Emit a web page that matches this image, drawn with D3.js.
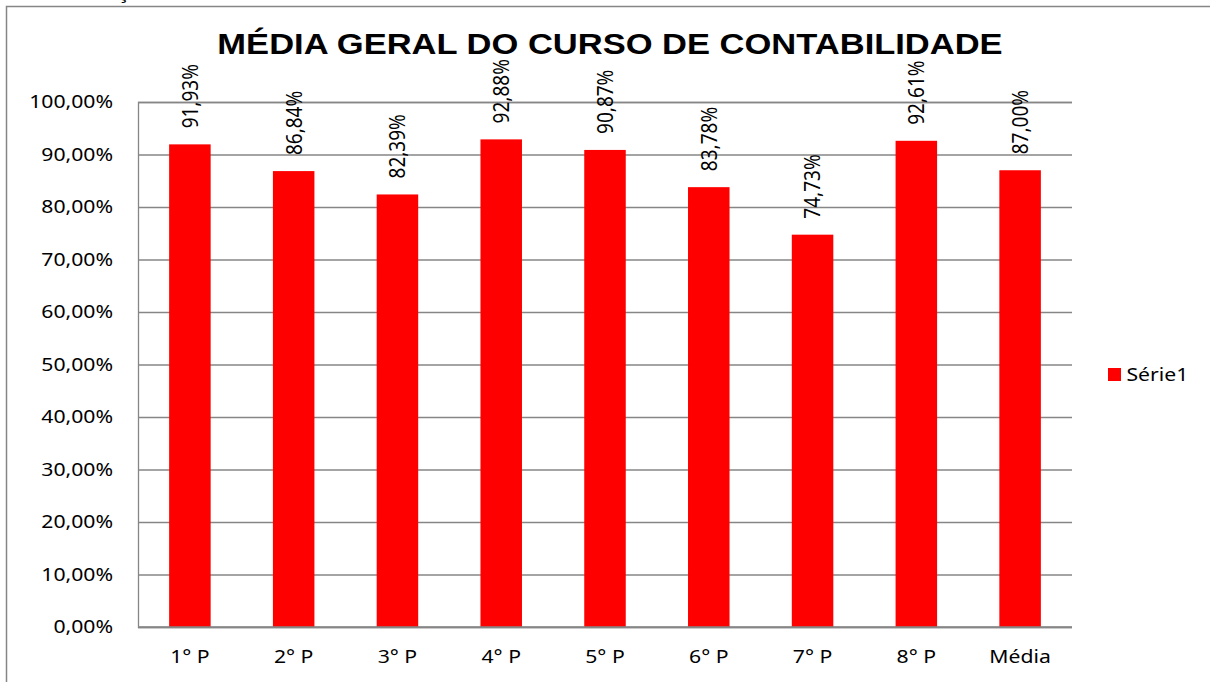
<!DOCTYPE html>
<html>
<head>
<meta charset="utf-8">
<script src="https://cdn.jsdelivr.net/npm/d3@7"></script>
<style>
  body { margin: 0; background: #fff; }
</style>
</head>
<body>
<div id="chart"></div>
<script>
// dados do grafico
var categorias = ["1° P", "2° P", "3° P", "4° P", "5° P", "6° P", "7° P", "8° P", "Média"];
var medias = [0.9193, 0.8684, 0.8239, 0.9288, 0.9087, 0.8378, 0.7473, 0.9261, 0.8700];
var ticksY = [0, 0.1, 0.2, 0.3, 0.4, 0.5, 0.6, 0.7, 0.8, 0.9, 1.0];
var serieNome = "Série1";
var titulo = "MÉDIA GERAL DO CURSO DE CONTABILIDADE";

var w = 1210, h = 682;
var sx = 1.19; // o original esta esticado na horizontal
var plotLeft = 138, plotRight = 1072, plotTop = 102, plotBottom = 627;
var grade = "#868686";
var fonte = "Noto Sans";

var svg = d3.select("#chart").append("svg").attr("width", w).attr("height", h);

// pedaco de texto cortado no topo
svg.append("text").text("ç")
    .attr("transform", "translate(123,-1) scale(" + sx + ",1)")
    .attr("text-anchor", "middle")
    .attr("font-family", fonte).attr("font-size", 18).attr("fill", "#000");

// moldura
svg.append("rect")
    .attr("x", 6.5).attr("y", 6.5).attr("width", 1400).attr("height", 900)
    .attr("fill", "none").attr("stroke", grade).attr("stroke-width", 1.5);

var fmt = d3.formatLocale({ decimal: ",", thousands: ".", grouping: [3], currency: ["R$", ""] }).format(".2%");

var x = d3.scaleBand().domain(categorias).range([plotLeft, plotRight]).paddingInner(0.6).paddingOuter(0.3);
var y = d3.scaleLinear().domain([0, 1]).range([plotBottom, plotTop]);

// grade horizontal
svg.append("g")
    .attr("transform", "translate(" + plotLeft + ",0)")
    .call(d3.axisLeft(y).tickValues(ticksY).tickSize(-(plotRight - plotLeft)).tickFormat(""))
    .call(function (g) {
        g.select(".domain").attr("stroke", grade).attr("stroke-width", 1.3);
        g.selectAll(".tick line").attr("stroke", grade).attr("stroke-width", 1.3);
    });

// rotulos do eixo y
svg.selectAll("text.ylab").data(ticksY).enter()
    .append("text").attr("class", "ylab")
    .text(function (d) { return fmt(d); })
    .attr("transform", function (d) { return "translate(113," + y(d) + ") scale(" + sx + ",1)"; })
    .attr("dy", "0.35em")
    .attr("text-anchor", "end")
    .attr("font-family", fonte).attr("font-size", 17.8).attr("fill", "#000");

// barras
svg.selectAll("rect.bar").data(medias).enter()
    .append("rect").attr("class", "bar")
    .attr("x", function (d, i) { return x(categorias[i]); })
    .attr("y", function (d) { return y(d); })
    .attr("width", x.bandwidth())
    .attr("height", function (d) { return y(0) - y(d); })
    .attr("fill", "#FF0000");

// eixo x
svg.append("line")
    .attr("x1", plotLeft).attr("x2", plotRight).attr("y1", plotBottom).attr("y2", plotBottom)
    .attr("stroke", grade).attr("stroke-width", 1.3);

svg.selectAll("text.xlab").data(categorias).enter()
    .append("text").attr("class", "xlab")
    .text(function (d) { return d; })
    .attr("transform", function (d) {
        return "translate(" + (x(d) + x.bandwidth() / 2) + ",662.5) scale(" + sx + ",1)";
    })
    .attr("text-anchor", "middle")
    .attr("font-family", fonte).attr("font-size", 17.8).attr("fill", "#000");

// rotulos de valor (verticais)
svg.selectAll("text.val").data(medias).enter()
    .append("text").attr("class", "val")
    .text(function (d) { return fmt(d); })
    .attr("transform", function (d, i) {
        return "translate(" + (x(categorias[i]) + x.bandwidth() / 2) + "," + (y(d) - 16) + ") scale(" + sx + ",1) rotate(-90)";
    })
    .attr("dy", "0.35em")
    .attr("text-anchor", "start")
    .attr("font-family", fonte).attr("font-size", 19).attr("fill", "#000");

// titulo
svg.append("text").text(titulo)
    .attr("transform", "translate(610,53.5) scale(1.17,1)")
    .attr("text-anchor", "middle")
    .attr("font-family", "Liberation Sans, Arial, sans-serif")
    .attr("font-weight", "bold").attr("font-size", 29.5).attr("fill", "#000");

// legenda
svg.append("rect").attr("x", 1108).attr("y", 368).attr("width", 13).attr("height", 13).attr("fill", "#FF0000");
svg.append("text").text(serieNome)
    .attr("transform", "translate(1126.5,380.5) scale(" + sx + ",1)")
    .attr("font-family", fonte).attr("font-size", 17.8).attr("fill", "#000");
</script>
</body>
</html>
